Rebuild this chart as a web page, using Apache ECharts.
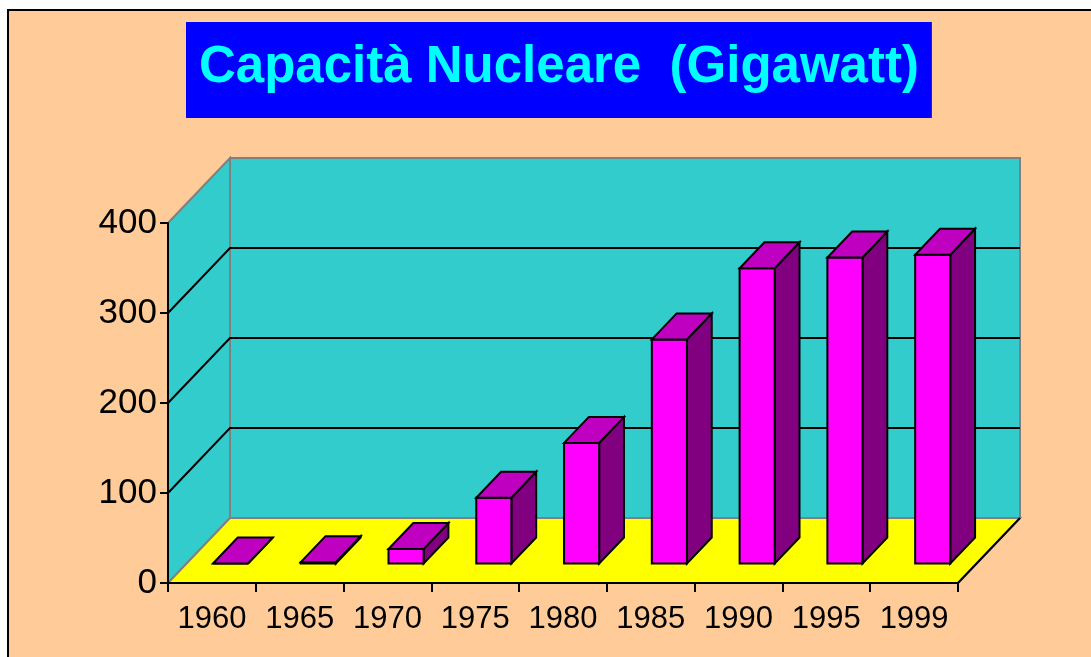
<!DOCTYPE html>
<html>
<head>
<meta charset="utf-8">
<title>Capacità Nucleare</title>
<script src="https://cdn.jsdelivr.net/npm/echarts@6/dist/echarts.min.js"></script>
<style>
  html, body { margin: 0; padding: 0; background: #ffffff; }
  #chart { width: 1091px; height: 657px; }
</style>
</head>
<body>
<div id="chart"></div>
<script>
// Chart data
const years = ['1960', '1965', '1970', '1975', '1980', '1985', '1990', '1995', '1999'];
const capacity = [0, 1.5, 16, 73, 134, 249, 328, 340, 343];
const yTicks = [0, 100, 200, 300, 400];

// Pseudo 3D look
const DX = 62, DY = -65;          // depth of the box
const BAR_FRONT = 0.3, BAR_BACK = 0.7, BAR_WIDTH = 0.4;
const colors = {
  background: '#FFCC99',
  wall: '#33CCCC',
  floor: '#FFFF00',
  edge: '#808080',
  front: '#FF00FF',
  top: '#C000C0',
  side: '#800080'
};
const font = "'Liberation Sans', Arial, sans-serif";

document.addEventListener('DOMContentLoaded', () => {
  const chart = echarts.init(document.getElementById('chart'), null, { renderer: 'canvas' });

  // walls, floor and gridlines, built from the axes
  const renderWalls = (params, api) => {
    const cs = params.coordSys;
    const left = cs.x, right = cs.x + cs.width;
    const bottomY = api.coord([0, yTicks[0]])[1];
    const topY = api.coord([0, yTicks[yTicks.length - 1]])[1];
    const edgeStyle = { stroke: colors.edge, lineWidth: 2 };
    const children = [
      {
        type: 'polygon',
        shape: { points: [[left, bottomY], [left, topY], [left + DX, topY + DY], [left + DX, bottomY + DY]] },
        style: Object.assign({ fill: colors.wall }, edgeStyle)
      },
      {
        type: 'rect',
        shape: { x: left + DX, y: topY + DY, width: cs.width, height: bottomY - topY },
        style: Object.assign({ fill: colors.wall }, edgeStyle)
      },
      {
        type: 'polygon',
        shape: { points: [[left, bottomY], [right, bottomY], [right + DX, bottomY + DY], [left + DX, bottomY + DY]] },
        style: Object.assign({ fill: colors.floor }, edgeStyle)
      },
      {
        type: 'line',
        shape: { x1: right, y1: bottomY, x2: right + DX, y2: bottomY + DY },
        style: { stroke: '#000', lineWidth: 2 }
      }
    ];
    yTicks.slice(1, -1).forEach(t => {
      const y = api.coord([0, t])[1];
      children.push({
        type: 'polyline',
        shape: { points: [[left, y], [left + DX, y + DY], [right + DX, y + DY]] },
        style: { stroke: '#000', lineWidth: 2, fill: null }
      });
    });
    return { type: 'group', children };
  };

  // 3D bars: front, top and side faces
  const renderBar = (params, api) => {
    const i = api.value(0), v = api.value(1);
    const base = api.coord([i, 0]);
    const top = api.coord([i, v]);
    const w = api.size([1, 0])[0] * BAR_WIDTH;
    const fx = base[0] - w / 2 + BAR_FRONT * DX;
    const fyB = base[1] + BAR_FRONT * DY;
    const fyT = top[1] + BAR_FRONT * DY;
    const ddx = (BAR_BACK - BAR_FRONT) * DX, ddy = (BAR_BACK - BAR_FRONT) * DY;
    const line = { stroke: '#000', lineWidth: 2, lineJoin: 'miter' };
    return {
      type: 'group',
      children: [
        {
          type: 'polygon',
          shape: { points: [[fx + w, fyT], [fx + w + ddx, fyT + ddy], [fx + w + ddx, fyB + ddy], [fx + w, fyB]] },
          style: Object.assign({ fill: colors.side }, line)
        },
        {
          type: 'rect',
          shape: { x: fx, y: fyT, width: w, height: fyB - fyT },
          style: Object.assign({ fill: colors.front }, line)
        },
        {
          type: 'polygon',
          shape: { points: [[fx, fyT], [fx + w, fyT], [fx + w + ddx, fyT + ddy], [fx + ddx, fyT + ddy]] },
          style: Object.assign({ fill: colors.top }, line)
        }
      ]
    };
  };

  const option = {
    backgroundColor: colors.background,
    animation: false,
    title: {
      text: 'Capacità Nucleare  (Gigawatt)',
      left: 186,
      top: 22,
      padding: [16, 13, 20, 13],
      backgroundColor: '#0000FF',
      textStyle: {
        color: '#00FFFF',
        fontSize: 51,
        fontWeight: 'bold',
        fontFamily: font,
        lineHeight: 60
      }
    },
    grid: { left: 168, right: 133, top: 223, bottom: 74 },
    xAxis: {
      type: 'category',
      data: years,
      boundaryGap: true,
      z: 10,
      axisLine: { lineStyle: { color: '#000', width: 2 } },
      axisTick: { show: true, interval: 0, alignWithLabel: false, length: 9, lineStyle: { color: '#000', width: 2 } },
      axisLabel: { color: '#000', fontSize: 31, fontFamily: font, margin: 21, interval: 0, hideOverlap: false },
      splitLine: { show: false }
    },
    yAxis: {
      type: 'value',
      min: 0,
      max: 400,
      interval: 100,
      z: 10,
      axisLine: { show: true, lineStyle: { color: '#000', width: 2 } },
      axisTick: { show: true, length: 8, lineStyle: { color: '#000', width: 2 } },
      axisLabel: { color: '#000', fontSize: 35, fontFamily: font, margin: 11 },
      splitLine: { show: false }
    },
    series: [
      {
        type: 'custom',
        z: 1,
        silent: true,
        clip: false,
        renderItem: renderWalls,
        data: [[0, 0]],
        encode: { x: 0, y: 1 }
      },
      {
        type: 'custom',
        z: 2,
        clip: false,
        renderItem: renderBar,
        data: years.map((y, i) => [i, capacity[i]]),
        encode: { x: 0, y: 1 }
      }
    ],
    graphic: [
      { type: 'rect', shape: { x: 0, y: 0, width: 1091, height: 9 }, style: { fill: '#fff' }, z: 100 },
      { type: 'rect', shape: { x: 0, y: 0, width: 7, height: 657 }, style: { fill: '#fff' }, z: 100 },
      { type: 'polyline', shape: { points: [[8, 657], [8, 10], [1091, 10]] }, style: { stroke: '#000', lineWidth: 2, fill: null }, z: 100 }
    ]
  };

  chart.setOption(option);
  window.addEventListener('resize', () => chart.resize());
});
</script>
</body>
</html>
